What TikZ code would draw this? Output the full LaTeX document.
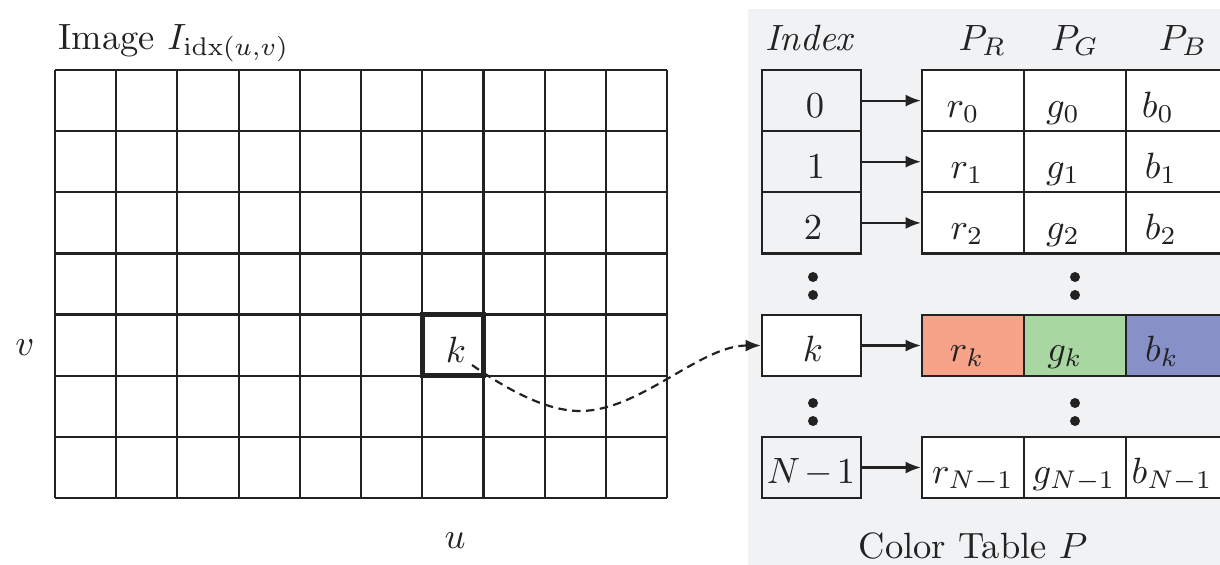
\documentclass[tikz,border=0pt]{standalone}
\usetikzlibrary{arrows.meta}
\def\pxu{0.2735pt}
\definecolor{panel}{HTML}{F1F2F4}
\definecolor{ink}{HTML}{222222}
\definecolor{redc}{HTML}{F6A38A}
\definecolor{greenc}{HTML}{A9D7A2}
\definecolor{bluec}{HTML}{8891C7}
\tikzset{
  gridline/.style={draw=ink, line width=0.6pt},
  cellbox/.style={draw=ink, line width=0.6pt, inner sep=0pt, minimum width=#1*\pxu, minimum height=61.2*\pxu},
  lbl/.style={inner sep=0pt, anchor=base, text=ink},
  lblw/.style={inner sep=0pt, anchor=base west, text=ink},
  arr/.style={draw=ink, line width=0.6pt, -{Latex[length=4.2pt,width=3.3pt]}},
  dashedarr/.style={draw=ink, line width=0.6pt, dash pattern=on 2.3pt off 1.5pt, -{Latex[length=4.2pt,width=3.3pt]}},
  dotn/.style={circle, fill=ink, inner sep=0pt, minimum size=10*\pxu}
}
\begin{document}
\begin{tikzpicture}[x=0.2735pt,y=-0.2735pt]
\useasboundingbox (0,0) rectangle (1220,564);
\clip (0,0) rectangle (1220,564);
% panel
\fill[panel] (748,9) rectangle (1240,580);
% image grid
\foreach \i in {0,...,10} \draw[gridline] ({55+\i*61.2},70) -- ({55+\i*61.2},498);
\foreach \j in {0,...,7} \draw[gridline] (55,{70+\j*61.143}) -- (667,{70+\j*61.143});
\node[draw=ink, line width=1.3pt, inner sep=0pt, minimum width=61.2*\pxu, minimum height=61.14*\pxu] (kcell) at (452.8,345.1) {};
\node[lbl] (tk) at (456,362) {$k$};
% labels
\node[lblw] (title) at (58,49) {Image $I_{\mathrm{idx}(u,v)}$};
\node[lbl] (lv) at (25,355) {$v$};
\node[lbl] (lu) at (455,548) {$u$};
\node[lblw] (hidx) at (765,50) {\textit{Index}};
\node[lblw] (hr) at (958,50) {$P_R$};
\node[lblw] (hg) at (1050,50) {$P_G$};
\node[lblw] (hb) at (1158,50) {$P_B$};
\node[lblw] (ctp) at (858,558) {Color Table $P$};
% index column
\node[cellbox=99] (idx0) at (811.5,100.6) {};
\node[cellbox=99] (idx1) at (811.5,161.7) {};
\node[cellbox=99] (idx2) at (811.5,222.9) {};
\node[cellbox=99, fill=white] (idxk) at (811.5,345.5) {};
\node[cellbox=99] (idxN) at (811.5,467.5) {};
\node[lbl] (ti0) at (815,117) {$0$};
\node[lbl] (ti1) at (816,178) {$1$};
\node[lbl] (ti2) at (813,239) {$2$};
\node[lbl] (tik) at (813,361) {$k$};
\node[lbl] (tiN) at (811,483) {$N\mkern2mu{-}\mkern2mu1$};
% colour table
\foreach \n/\yy in {0/100.6,1/161.7,2/222.9,N/467.5}{
  \node[cellbox=102, fill=white] (r\n) at (973,\yy) {};
  \node[cellbox=102, fill=white] (g\n) at (1075,\yy) {};
  \node[cellbox=102, fill=white] (b\n) at (1177,\yy) {};
}
\node[cellbox=102, fill=redc] (rk) at (973,345.5) {};
\node[cellbox=102, fill=greenc] (gk) at (1075,345.5) {};
\node[cellbox=102, fill=bluec] (bk) at (1177,345.5) {};
\node[lbl] (tr0) at (963,117) {$r_0$};
\node[lbl] (tg0) at (1063,117) {$g_0$};
\node[lbl] (tb0) at (1158,117) {$b_0$};
\node[lbl] (tr1) at (967,178) {$r_1$};
\node[lbl] (tg1) at (1063,178) {$g_1$};
\node[lbl] (tb1) at (1161,178) {$b_1$};
\node[lbl] (tr2) at (967,239) {$r_2$};
\node[lbl] (tg2) at (1063,239) {$g_2$};
\node[lbl] (tb2) at (1161,239) {$b_2$};
\node[lbl] (trk) at (967,361) {$r_k$};
\node[lbl] (tgk) at (1065,361) {$g_k$};
\node[lbl] (tbk) at (1162,361) {$b_k$};
\node[lbl] (trN) at (973,483) {$r_{N-1}$};
\node[lbl] (tgN) at (1074,483) {$g_{N-1}$};
\node[lbl] (tbN) at (1172,483) {$b_{N-1}$};
% dots
\node[dotn] (d1) at (813,277) {};
\node[dotn] (d2) at (813,295) {};
\node[dotn] (d3) at (1075,277) {};
\node[dotn] (d4) at (1075,295) {};
\node[dotn] (d5) at (813,403) {};
\node[dotn] (d6) at (813,421) {};
\node[dotn] (d7) at (1075,403) {};
\node[dotn] (d8) at (1075,421) {};
% arrows
\foreach \n in {0,1,2,k,N} \draw[arr] (idx\n.east) -- (r\n.west);
\coordinate (kstart) at (472,365);
\coordinate (cbot) at (580,411);
\draw[dashedarr] (kstart) .. controls (505,388) and (545,411) .. (cbot) .. controls (640,411) and (700,345.5) .. (idxk.west);
\end{tikzpicture}
\end{document}
